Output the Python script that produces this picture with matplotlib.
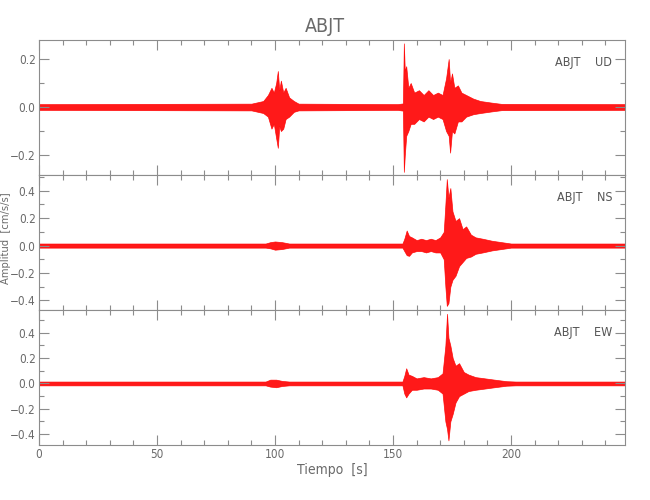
import matplotlib
matplotlib.use("Agg")
import matplotlib.pyplot as plt
from matplotlib.ticker import MultipleLocator

plt.rcParams['font.family'] = ['DejaVu Sans']
plt.rcParams['font.stretch'] = 'condensed'

station = 'ABJT'
components = ['UD', 'NS', 'EW']
t_end = 248.3

# envelope knots: time [s], upper and lower amplitude [cm/s/s]
ud_t = [0, 90, 95, 97, 98.5, 99.5, 100.5, 101.2, 101.8, 102.5, 103.5, 104.5, 106, 108, 110,
        152, 154.2, 154.6, 155.0, 155.6, 156.5, 157.5, 159, 161, 163, 165, 167, 169, 171,
        172.5, 173.6, 174.2, 175, 176, 177.5, 179, 181, 184, 187, 192, 196, 248.3]
ud_hi = [0.012, 0.014, 0.025, 0.05, 0.08, 0.06, 0.10, 0.15, 0.07, 0.11, 0.06, 0.08, 0.04, 0.025, 0.014,
         0.012, 0.015, 0.265, 0.15, 0.17, 0.08, 0.10, 0.06, 0.07, 0.05, 0.07, 0.05, 0.06, 0.05,
         0.12, 0.20, 0.10, 0.14, 0.08, 0.09, 0.06, 0.05, 0.035, 0.025, 0.018, 0.013, 0.012]
ud_lo = [-0.012, -0.014, -0.025, -0.04, -0.09, -0.07, -0.13, -0.17, -0.08, -0.10, -0.09, -0.05, -0.04, -0.02, -0.014,
         -0.012, -0.015, -0.27, -0.20, -0.12, -0.10, -0.07, -0.07, -0.05, -0.06, -0.04, -0.05, -0.04, -0.05,
         -0.10, -0.12, -0.19, -0.10, -0.11, -0.06, -0.06, -0.04, -0.03, -0.025, -0.018, -0.013, -0.012]

ns_t = [0, 96, 98, 100, 103, 106, 154, 154.8, 155.8, 156.8, 158, 160, 162, 164, 166, 168, 170,
        171.5, 172.2, 172.8, 173.5, 174.3, 175.2, 176.5, 178, 179.5, 181, 183, 185, 188, 192, 196, 200, 248.3]
ns_hi = [0.015, 0.015, 0.025, 0.03, 0.025, 0.015, 0.015, 0.05, 0.11, 0.07, 0.06, 0.04, 0.05, 0.04, 0.05, 0.04, 0.06,
         0.10, 0.30, 0.485, 0.35, 0.42, 0.25, 0.18, 0.20, 0.12, 0.14, 0.08, 0.06, 0.05, 0.035, 0.025, 0.015, 0.015]
ns_lo = [-0.015, -0.015, -0.02, -0.03, -0.025, -0.015, -0.015, -0.04, -0.07, -0.075, -0.05, -0.04, -0.04, -0.05, -0.04, -0.05, -0.05,
         -0.10, -0.30, -0.44, -0.42, -0.30, -0.25, -0.22, -0.15, -0.12, -0.09, -0.08, -0.06, -0.05, -0.035, -0.025, -0.015, -0.015]

ew_t = [0, 96, 98, 100.5, 103, 106, 154, 154.8, 155.6, 156.6, 158, 160, 163, 166, 169, 171,
        172.2, 172.9, 173.5, 174.3, 175.3, 176.5, 178, 180, 182, 185, 189, 193, 198, 202, 248.3]
ew_hi = [0.015, 0.015, 0.03, 0.03, 0.02, 0.015, 0.015, 0.06, 0.12, 0.07, 0.06, 0.04, 0.05, 0.04, 0.05, 0.08,
         0.30, 0.55, 0.36, 0.30, 0.20, 0.14, 0.16, 0.09, 0.07, 0.05, 0.04, 0.03, 0.018, 0.015, 0.015]
ew_lo = [-0.015, -0.015, -0.025, -0.03, -0.02, -0.015, -0.015, -0.08, -0.11, -0.08, -0.05, -0.05, -0.04, -0.04, -0.05, -0.08,
         -0.30, -0.36, -0.45, -0.30, -0.24, -0.15, -0.10, -0.08, -0.06, -0.05, -0.04, -0.03, -0.018, -0.015, -0.015]

ylims = [(-0.283, 0.279), (-0.47, 0.515), (-0.486, 0.58)]
traces = [(ud_t, ud_hi, ud_lo), (ns_t, ns_hi, ns_lo), (ew_t, ew_hi, ew_lo)]

gray = '#8c8c8c'
txt = '#6a6a6a'

fig = plt.figure(figsize=(6.5, 5), dpi=100)
gs = fig.add_gridspec(3, 1, left=0.06, right=0.9615, bottom=0.11, top=0.92, hspace=0)
axes = [fig.add_subplot(gs[i]) for i in range(3)]

for i, ax in enumerate(axes):
    t, hi, lo = traces[i]
    ax.fill_between(t, lo, hi, color='red', edgecolor='red', lw=0.5, alpha=0.9)
    ax.set_xlim(0, t_end)
    ax.set_ylim(*ylims[i])
    ax.xaxis.set_major_locator(MultipleLocator(50))
    ax.xaxis.set_minor_locator(MultipleLocator(10))
    ax.yaxis.set_major_locator(MultipleLocator(0.2))
    ax.yaxis.set_minor_locator(MultipleLocator(0.1))
    ax.tick_params(which='both', direction='in', top=True, right=True, color=gray,
                   labelcolor=txt, labelsize=8.5, width=0.8, pad=2.5)
    ax.tick_params(which='major', length=7)
    ax.tick_params(which='minor', length=3.5)
    for s in ax.spines.values():
        s.set_color(gray)
        s.set_linewidth(0.8)
    ax.yaxis.set_major_formatter(plt.FuncFormatter(lambda v, p: f'{v:.1f}'.replace('-', '\u2212')))
    if i < 2:
        ax.tick_params(labelbottom=False)
    ax.text(0.978, 0.83, f'{station}    {components[i]}', transform=ax.transAxes,
            ha='right', va='center', fontsize=9, color='#555555')

axes[2].set_xlabel('Tiempo  [s]', color=txt, fontsize=10, labelpad=1)
fig.text(6 / 650, 1 - 238 / 500, 'Amplitud  [cm/s/s]', rotation=90,
         ha='center', va='center', color=txt, fontsize=8)
fig.suptitle(station, y=0.965, fontsize=14, color=txt)

fig.savefig('out.png', dpi=100)
